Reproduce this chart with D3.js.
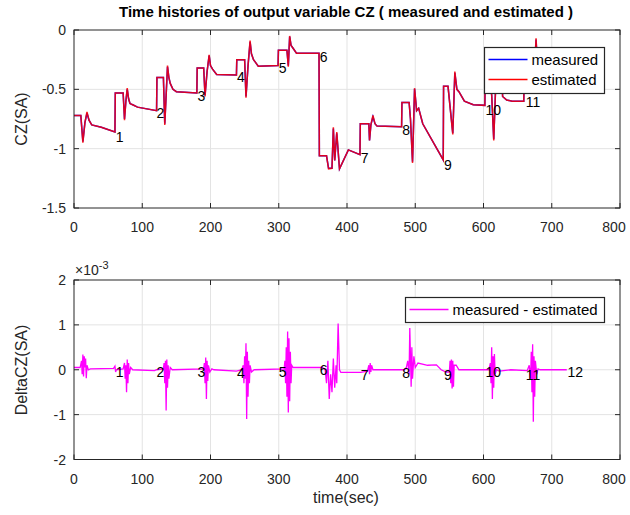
<!DOCTYPE html>
<html>
<head>
<meta charset="utf-8">
<script src="https://cdn.jsdelivr.net/npm/d3@7"></script>
<style>
  body { margin: 0; background: #fff; }
  svg { display: block; font-family: "Liberation Sans", Arial, sans-serif; }
</style>
</head>
<body>
<script>
// time histories of CZ, measured vs estimated, and their difference

var xTicks = [0, 100, 200, 300, 400, 500, 600, 700, 800];
var czTicks = [0, -0.5, -1, -1.5];
var czTickLabels = ["0", "-0.5", "-1", "-1.5"];
var deltaTicks = [2, 1, 0, -1, -2];

var timeCZ = [0, 10, 13, 16, 19, 22, 26, 40, 60, 60.5, 72, 74, 76, 78, 80, 82, 86, 93, 121, 121.5,
  131, 133, 135, 137, 139, 141, 145, 150, 180, 180.5, 190, 192, 195, 198, 200, 203, 209, 238, 238.5,
  250, 252, 255, 258, 260, 263, 270, 299, 299.5, 312, 314, 316, 318, 320, 326, 359, 359.5, 370, 373,
  378, 380, 382, 385, 389, 402, 419, 419.5, 432, 433, 435, 438, 441, 444, 480, 480.5, 491, 493, 496,
  499, 502, 505, 511, 541, 541.5, 548, 555, 558, 561, 564, 572, 585, 602, 602.5, 609, 612, 615, 618,
  621, 627, 628, 634, 642, 659, 659.5, 674, 677, 679, 682, 688, 722];
var measuredCZ = [-0.72, -0.72, -0.94, -0.78, -0.70, -0.76, -0.80, -0.82, -0.86, -0.53, -0.53, -0.75,
  -0.60, -0.50, -0.58, -0.62, -0.63, -0.65, -0.68, -0.40, -0.40, -0.79, -0.55, -0.31, -0.40, -0.45,
  -0.50, -0.52, -0.53, -0.32, -0.32, -0.55, -0.35, -0.215, -0.30, -0.33, -0.375, -0.38, -0.25, -0.25,
  -0.56, -0.30, -0.10, -0.20, -0.25, -0.305, -0.30, -0.17, -0.17, -0.30, -0.056, -0.13, -0.145, -0.195,
  -0.195, -1.06, -1.06, -1.165, -1.165, -0.83, -1.10, -0.87, -1.17, -1.01, -1.05, -0.79, -0.79, -0.93,
  -0.80, -0.73, -0.79, -0.81, -0.815, -0.61, -0.61, -0.75, -1.11, -0.495, -0.68, -0.66, -0.79, -1.095,
  -0.475, -0.475, -0.87, -0.36, -0.50, -0.52, -0.60, -0.63, -0.635, -0.38, -0.38, -0.55, -0.92, -0.45,
  -0.40, -0.40, -0.56, -0.59, -0.60, -0.60, -0.42, -0.42, -0.08, -0.30, -0.45, -0.48, -0.47];
var estimatedCZ = [-0.72, -0.72, -0.95, -0.78, -0.69, -0.76, -0.80, -0.82, -0.86, -0.53, -0.53, -0.76,
  -0.60, -0.49, -0.58, -0.62, -0.63, -0.65, -0.68, -0.40, -0.40, -0.80, -0.55, -0.30, -0.40, -0.45,
  -0.50, -0.52, -0.53, -0.32, -0.32, -0.56, -0.35, -0.21, -0.30, -0.33, -0.375, -0.38, -0.25, -0.25,
  -0.57, -0.30, -0.09, -0.20, -0.25, -0.305, -0.30, -0.17, -0.17, -0.31, -0.05, -0.13, -0.145, -0.195,
  -0.195, -1.06, -1.06, -1.17, -1.165, -0.82, -1.10, -0.86, -1.17, -1.01, -1.05, -0.79, -0.79, -0.93,
  -0.80, -0.72, -0.79, -0.81, -0.815, -0.61, -0.61, -0.75, -1.12, -0.49, -0.68, -0.66, -0.79, -1.095,
  -0.475, -0.475, -0.88, -0.35, -0.50, -0.52, -0.60, -0.63, -0.635, -0.38, -0.38, -0.55, -0.93, -0.45,
  -0.40, -0.40, -0.56, -0.59, -0.60, -0.60, -0.42, -0.42, -0.07, -0.30, -0.45, -0.48, -0.47];

var timeDelta = [0, 9, 11, 12, 13, 14, 15, 16, 17, 18, 19, 21, 24, 58, 60, 61, 62, 72, 74, 75, 76, 77,
  78, 79, 80, 81, 83, 86, 118, 121, 131, 132, 133, 134, 135, 136, 137, 138, 139, 141, 144, 190, 191,
  192, 193, 194, 195, 196, 197, 199, 202, 205, 238, 246, 248, 249, 250, 251, 252, 253, 254, 255, 256,
  257, 258, 260, 264, 308, 309, 310, 311, 312, 313, 314, 315, 316, 317, 318, 319, 321, 330, 364, 368,
  370, 372, 374, 376, 378, 380, 382, 384, 385, 387, 389, 391, 420, 430, 432, 433, 434, 435, 436, 438,
  484, 487, 489, 491, 492, 493, 494, 495, 496, 498, 500, 504, 518, 531, 538, 545, 550, 551, 552, 553,
  554, 555, 556, 557, 560, 564, 608, 610, 611, 612, 613, 614, 615, 616, 617, 619, 623, 640, 664, 667,
  669, 670, 671, 672, 673, 674, 675, 676, 678, 680, 683, 700, 722];
var deltaCZ = [0.05, 0.05, 0.2, -0.1, 0.34, -0.15, 0.3, 0.05, 0.25, -0.19, 0.1, 0, 0.02, 0.03, 0.08,
  -0.05, 0, 0.02, 0.15, -0.2, 0.1, -0.5, 0.23, -0.3, 0.15, -0.1, 0.05, 0, -0.02, 0, 0.02, 0.15, -0.3,
  0.2, -0.91, 0.23, -0.4, 0.1, -0.2, 0.05, 0, 0.02, 0.15, -0.3, 0.27, -0.65, 0.2, -0.25, 0.1, -0.05,
  0.02, 0, -0.03, 0, 0.1, -0.3, 0.3, -0.2, 0.59, -1.1, 0.4, -0.6, 0.2, -0.3, 0.1, -0.05, 0, 0.02, 0.2,
  -0.3, 0.5, -0.6, 0.85, -0.95, 0.7, -0.7, 0.4, -0.3, 0.1, 0.05, 0.05, 0.05, 0, -0.3, 0.2, -0.65, -0.1,
  -0.5, 0.25, -0.4, 0.1, -0.3, 1.03, 0, -0.06, -0.06, -0.03, 0.1, -0.1, 0.15, -0.05, 0.1, 0, 0, 0.05,
  0.2, -0.1, 0.93, 0.3, -0.38, 0.5, -0.2, 0.3, 0.05, 0.15, 0.1, 0.11, 0, -0.05, -0.05, 0.2, -0.3, 0.23,
  -0.42, 0.2, -0.38, 0.1, 0.1, 0, 0, 0.15, -0.3, 0.5, -0.65, 0.3, -0.4, 0.35, -0.1, 0, -0.03, 0, -0.02,
  0.1, -0.2, 0.4, -0.5, 0.57, -1.16, 0.3, -0.6, 0.2, -0.1, 0.02, 0, 0, 0];

// numbered markers; the 12th one in the top panel sits under the legend, so it is left out there
var labelTexts = ["1", "2", "3", "4", "5", "6", "7", "8", "9", "10", "11", "12"];
var labelTimes = [61, 121, 181, 239, 300, 360, 420, 481, 542, 603, 662, 723];
var topLabelValues = [-0.90, -0.70, -0.555, -0.40, -0.32, -0.23, -1.075, -0.84, -1.14, -0.67, -0.61];
var bottomLabelValues = [-0.04, -0.045, -0.045, -0.07, -0.045, 0, -0.11, -0.07, -0.11, -0.045, -0.11, -0.045];

var width = 630, height = 515;
var axisColor = "#262626", gridColor = "#e3e3e3";

var svg = d3.select(document.body).append("svg")
    .attr("width", width)
    .attr("height", height);

svg.append("rect").attr("width", width).attr("height", height).attr("fill", "#fff");

var x = d3.scaleLinear().domain([0, 800]).range([74, 620]);
var yTop = d3.scaleLinear().domain([-1.5, 0]).range([208, 30]);
var yBot = d3.scaleLinear().domain([-2, 2]).range([459.5, 280]);

function drawGrid(y, yTicks, clipId) {
  var top = y.range()[1], bottom = y.range()[0];
  var g = svg.append("g");
  g.selectAll(".gx").data(xTicks.slice(1, -1)).join("line")
      .attr("x1", (d) => x(d)).attr("x2", (d) => x(d))
      .attr("y1", top).attr("y2", bottom)
      .attr("stroke", gridColor);
  g.selectAll(".gy").data(yTicks.slice(1, -1)).join("line")
      .attr("class", "gy")
      .attr("y1", (d) => y(d)).attr("y2", (d) => y(d))
      .attr("x1", x(0)).attr("x2", x(800))
      .attr("stroke", gridColor);
  svg.append("clipPath").attr("id", clipId)
      .append("rect").attr("x", x(0)).attr("y", top)
      .attr("width", x(800) - x(0)).attr("height", bottom - top);
}

function drawFrame(y, yTicks, yTickText) {
  var top = y.range()[1], bottom = y.range()[0];
  var g = svg.append("g").attr("stroke", axisColor);
  g.append("rect").attr("x", x(0)).attr("y", top)
      .attr("width", x(800) - x(0)).attr("height", bottom - top)
      .attr("fill", "none");
  xTicks.forEach(function (t) {
    g.append("line").attr("x1", x(t)).attr("x2", x(t)).attr("y1", bottom).attr("y2", bottom - 5);
    g.append("line").attr("x1", x(t)).attr("x2", x(t)).attr("y1", top).attr("y2", top + 5);
  });
  yTicks.forEach(function (v) {
    g.append("line").attr("x1", x(0)).attr("x2", x(0) + 5).attr("y1", y(v)).attr("y2", y(v));
    g.append("line").attr("x1", x(800)).attr("x2", x(800) - 5).attr("y1", y(v)).attr("y2", y(v));
  });
  svg.append("g").attr("font-size", 14).attr("fill", axisColor).attr("text-anchor", "middle")
    .selectAll("text").data(xTicks).join("text")
      .attr("x", (d) => Math.min(x(d), 614)).attr("y", bottom + 24)
      .text((d) => d);
  svg.append("g").attr("font-size", 14).attr("fill", axisColor).attr("text-anchor", "end")
    .selectAll("text").data(yTicks).join("text")
      .attr("x", x(0) - 8).attr("y", (d) => y(d) + 5)
      .text((d, i) => yTickText[i]);
}

var line = (y) => d3.line().x((d) => x(d[0])).y((d) => y(d[1]));

// top panel
drawGrid(yTop, czTicks, "clipTop");
var topG = svg.append("g").attr("clip-path", "url(#clipTop)").attr("fill", "none");
topG.append("path")
    .attr("d", line(yTop)(d3.zip(timeCZ, measuredCZ)))
    .attr("stroke", "#0000ff").attr("stroke-width", 1.5);
topG.append("path")
    .attr("d", line(yTop)(d3.zip(timeCZ, estimatedCZ)))
    .attr("stroke", "#ff0000").attr("stroke-width", 1.5).attr("stroke-opacity", 0.86);
svg.append("g").attr("font-size", 14).attr("fill", "#000")
  .selectAll("text").data(topLabelValues).join("text")
    .attr("x", (d, i) => x(labelTimes[i]))
    .attr("y", (d) => yTop(d) + 5)
    .text((d, i) => labelTexts[i]);
drawFrame(yTop, czTicks, czTickLabels);

// bottom panel
drawGrid(yBot, deltaTicks, "clipBot");
svg.append("g").attr("clip-path", "url(#clipBot)").append("path")
    .attr("d", line(yBot)(d3.zip(timeDelta, deltaCZ)))
    .attr("fill", "none").attr("stroke", "#ff00ff").attr("stroke-width", 1.3);
svg.append("g").attr("font-size", 14).attr("fill", "#000")
  .selectAll("text").data(bottomLabelValues).join("text")
    .attr("x", (d, i) => x(labelTimes[i]))
    .attr("y", (d) => yBot(d) + 5)
    .text((d, i) => labelTexts[i]);
drawFrame(yBot, deltaTicks, deltaTicks.map(String));

// legends
function legend(x0, y0, w, h, items) {
  var g = svg.append("g");
  g.append("rect").attr("x", x0).attr("y", y0).attr("width", w).attr("height", h)
      .attr("fill", "#fff").attr("stroke", axisColor).attr("stroke-width", 1.2);
  items.forEach(function (it, i) {
    var yy = y0 + 12 + i * 20;
    g.append("line").attr("x1", x0 + 4).attr("x2", x0 + 43).attr("y1", yy).attr("y2", yy)
        .attr("stroke", it[1]).attr("stroke-width", 1.5);
    g.append("text").attr("x", x0 + 47).attr("y", yy + 5).attr("font-size", 15)
        .attr("fill", "#000").text(it[0]);
  });
}
legend(484.5, 47.5, 120, 46, [["measured", "#0000ff"], ["estimated", "#ff0000"]]);
legend(405.5, 297.5, 199, 25, [["measured - estimated", "#ff00ff"]]);

// titles and labels
svg.append("text").attr("x", 346).attr("y", 17).attr("text-anchor", "middle")
    .attr("font-size", 15).attr("font-weight", "bold").attr("fill", "#000")
    .text("Time histories of output variable CZ ( measured and estimated )");
svg.append("text").attr("transform", "translate(27,119) rotate(-90)")
    .attr("text-anchor", "middle").attr("font-size", 16).attr("fill", axisColor)
    .text("CZ(SA)");
svg.append("text").attr("transform", "translate(27,370) rotate(-90)")
    .attr("text-anchor", "middle").attr("font-size", 16).attr("fill", axisColor)
    .text("DeltaCZ(SA)");
svg.append("text").attr("x", 346).attr("y", 503).attr("text-anchor", "middle")
    .attr("font-size", 16).attr("fill", axisColor).text("time(sec)");
var mult = svg.append("text").attr("x", 75).attr("y", 275).attr("font-size", 14).attr("fill", axisColor);
mult.append("tspan").text("\u00d710");
mult.append("tspan").attr("dy", -6).attr("font-size", 11).text("-3");
</script>
</body>
</html>
